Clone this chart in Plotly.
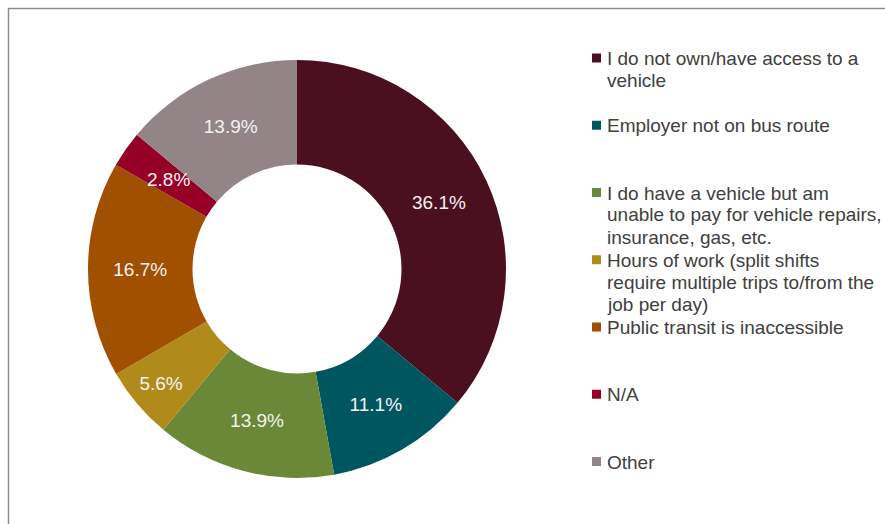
import math
import plotly.graph_objects as go

# Reasons for transportation barriers (percent of respondents)
categories = [
    "I do not own/have access to a vehicle",
    "Employer not on bus route",
    "I do have a vehicle but am unable to pay for vehicle repairs, insurance, gas, etc.",
    "Hours of work (split shifts require multiple trips to/from the job per day)",
    "Public transit is inaccessible",
    "N/A",
    "Other",
]
values = [36.1, 11.1, 13.9, 5.6, 16.7, 2.8, 13.9]

# Legend text broken into display lines
legend_lines = [
    ["I do not own/have access to a", "vehicle"],
    ["Employer not on bus route"],
    ["I do have a vehicle but am", "unable to pay for vehicle repairs,", "insurance, gas, etc."],
    ["Hours of work (split shifts", "require multiple trips to/from the", "job per day)"],
    ["Public transit is inaccessible"],
    ["N/A"],
    ["Other"],
]

colors = ["#4A1020", "#00565F", "#6B8838", "#B08B1B", "#A14F00", "#960027", "#928487"]

W, H = 885, 524
FONT = "Liberation Sans, Arial, sans-serif"
FS = 19
LABEL_COLOR = "#F2F2F2"

# donut placement (pixels)
CX, CY, R_OUT, HOLE = 297, 269, 209, 0.5

# thin slices get their label centred on the ring instead of pushed outward
centred_labels = {5}
templates = ["" if i in centred_labels else "%{value:.1f}%" for i in range(len(values))]

fig = go.Figure()
fig.add_trace(go.Pie(
    labels=categories,
    values=values,
    hole=HOLE,
    sort=False,
    direction="clockwise",
    rotation=0,
    marker=dict(colors=colors, line=dict(width=0)),
    texttemplate=templates,
    textposition="inside",
    insidetextorientation="horizontal",
    textfont=dict(family=FONT, size=FS, color=LABEL_COLOR),
    showlegend=False,
    domain=dict(x=[(CX - R_OUT) / W, (CX + R_OUT) / W],
                y=[(H - CY - R_OUT) / H, (H - CY + R_OUT) / H]),
))

annotations = []
total = sum(values)
r_mid = R_OUT * (1 + HOLE) / 2
for i in centred_labels:
    frac = (sum(values[:i]) + values[i] / 2) / total
    ang = 2 * math.pi * frac
    px = CX + r_mid * math.sin(ang)
    py = CY - r_mid * math.cos(ang)
    annotations.append(dict(
        xref="paper", yref="paper", x=px / W, y=1 - py / H,
        xanchor="center", yanchor="middle", showarrow=False,
        text=f"{values[i]:.1f}%",
        font=dict(family=FONT, size=FS, color=LABEL_COLOR),
    ))

shapes = [
    # outer frame
    dict(type="rect", xref="paper", yref="paper",
         x0=8.5 / W, x1=1.05, y0=-0.05, y1=1 - 8.5 / H,
         line=dict(color="#8C8C8C", width=1.5), fillcolor="rgba(0,0,0,0)", layer="below"),
]
slot = 67.25
line_gap = 22
for i, (lines, col) in enumerate(zip(legend_lines, colors)):
    cy = 58 + slot * i
    shapes.append(dict(type="rect", xref="paper", yref="paper",
                       x0=592 / W, x1=601 / W,
                       y0=1 - (cy + 4.5) / H, y1=1 - (cy - 4.5) / H,
                       fillcolor=col, line=dict(width=0)))
    for j, line in enumerate(lines):
        annotations.append(dict(
            xref="paper", yref="paper", x=605 / W, y=1 - (cy + 0.5 + j * line_gap) / H,
            xanchor="left", yanchor="middle", align="left", showarrow=False,
            text=line,
            font=dict(family=FONT, size=FS, color="#404040"),
        ))

fig.update_layout(
    width=W, height=H,
    margin=dict(l=0, r=0, t=0, b=0),
    paper_bgcolor="white",
    plot_bgcolor="white",
    shapes=shapes,
    annotations=annotations,
    uniformtext=dict(minsize=FS, mode="show"),
)

fig.write_html("out.html")
